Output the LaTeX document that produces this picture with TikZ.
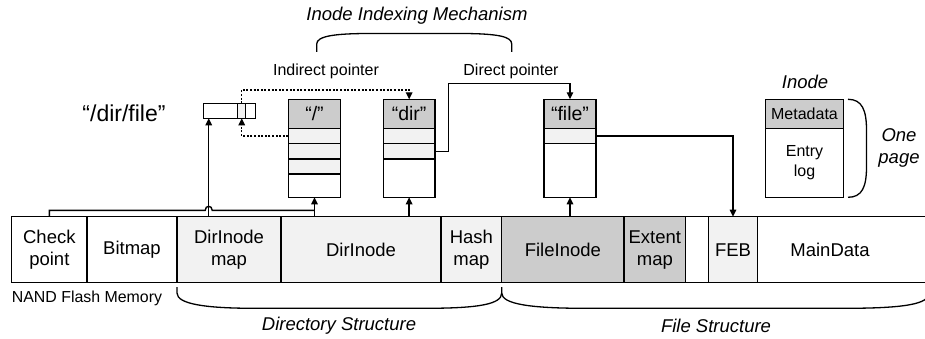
\documentclass[tikz,border=0pt]{standalone}
\usepackage{fontspec}
\setmainfont{Liberation Sans}
\usetikzlibrary{arrows.meta,calc}
\definecolor{dgray}{HTML}{CCCCCC}
\definecolor{lgray}{HTML}{F2F2F2}
\tikzset{
  cell/.style={draw=black,line width=1.4pt,inner sep=0pt,outer sep=0pt,anchor=north west,minimum height=66pt,align=center,font=\fontsize{18.5}{22}\selectfont},
  boxpart/.style={draw=black,line width=1.4pt,inner sep=0pt,outer sep=0pt,anchor=north west},
  hdr/.style={boxpart,fill=dgray,minimum height=29pt,font=\fontsize{19.5}{22}\selectfont},
  arr/.style={line width=1.4pt,-{Triangle[length=7pt,width=6.5pt]}},
  plain/.style={line width=1.4pt},
  dotline/.style={line width=1.4pt,dash pattern=on 2pt off 1.6pt},
  lbl/.style={font=\fontsize{16}{19}\selectfont,inner sep=0pt},
  ilbl/.style={font=\fontsize{18.5}{22}\selectfont\itshape,inner sep=0pt,align=center},
  brace/.style={line width=1.3pt}
}
\begin{document}
\begin{tikzpicture}[x=1pt,y=-1pt]
\useasboundingbox (0,0) rectangle (925,339);
% memory bar
\node[cell,minimum width=75.3pt] (cp) at (11.7,216.7) {Check\\point};
\node[cell,minimum width=90pt] (bm) at (87,216.7) {Bitmap};
\node[cell,minimum width=104pt,fill=lgray] (dim) at (177,216.7) {DirInode\\map};
\node[cell,minimum width=160pt,fill=lgray] (di) at (281,216.7) {DirInode};
\node[cell,minimum width=60.7pt,fill=lgray] (hm) at (441,216.7) {Hash\\map};
\node[cell,minimum width=122.3pt,fill=dgray] (fi) at (501.7,216.7) {FileInode};
\node[cell,minimum width=61.7pt,fill=dgray] (em) at (624,216.7) {Extent\\map};
\node[cell,minimum width=23pt] (gp) at (685.7,216.7) {};
\node[cell,minimum width=48.6pt,fill=lgray] (feb) at (708.7,216.7) {FEB};
\node[cell,draw=none,minimum width=145.4pt] (md) at (757.3,216.7) {MainData};
\draw[plain] (md.north west) -- ++(180,0);
\draw[plain] (md.south west) -- ++(180,0);
\node[lbl,anchor=west,font=\fontsize{15.9}{19}\selectfont] (nand) at (11.7,298) {NAND Flash Memory};

% bottom braces
\draw[brace] (177,287) -- (177,293) .. controls (177,304) and (205,308.3) .. (255,308.3) -- (425,308.3) .. controls (480,308.3) and (501.7,304) .. (501.7,293) -- (501.7,287);
\draw[brace] (501.7,293) .. controls (501.7,304) and (530,308.3) .. (585,308.3) -- (845,308.3) .. controls (905,308.3) and (929,304) .. (929,293);
\node[ilbl] (ds) at (339,326) {Directory Structure};
\node[ilbl] (fs) at (716,326) {File Structure};

% top brace
\draw[brace] (316.7,52) -- (316.7,44) .. controls (316.7,36) and (335,33.5) .. (370,33.5) -- (460,33.5) .. controls (500,33.5) and (511.7,37) .. (511.7,44) -- (511.7,52);
\node[ilbl] (iim) at (417,16) {Inode Indexing Mechanism};

% pointer box
\node[boxpart,minimum width=34.4pt,minimum height=15pt] (ptrl) at (203.3,103.3) {};
\node[boxpart,fill=lgray,minimum width=8pt,minimum height=15pt] (ptrm) at (237.7,103.3) {};
\node[boxpart,minimum width=10pt,minimum height=15pt] (ptrr) at (245.7,103.3) {};
\node[font=\fontsize{23}{26}\selectfont,inner sep=0pt] (path) at (124,113) {“/dir/file”};

% "/" box
\node[hdr,minimum width=52.4pt] (sh) at (288.3,99.3) {“/”};
\node[boxpart,fill=lgray,minimum width=52.4pt,minimum height=15.3pt] (sr1) at (288.3,128.3) {};
\node[boxpart,fill=lgray,minimum width=52.4pt,minimum height=15.3pt] (sr2) at (288.3,143.6) {};
\node[boxpart,fill=lgray,minimum width=52.4pt,minimum height=15.3pt] (sr3) at (288.3,158.9) {};
\node[boxpart,minimum width=52.4pt,minimum height=23.1pt] (sb) at (288.3,174.2) {};

% "dir" box
\node[hdr,minimum width=51.7pt] (dh) at (383.3,99.3) {“dir”};
\node[boxpart,fill=lgray,minimum width=51.7pt,minimum height=15.3pt] (dr1) at (383.3,128.3) {};
\node[boxpart,fill=lgray,minimum width=51.7pt,minimum height=15.3pt] (dr2) at (383.3,143.6) {};
\node[boxpart,minimum width=51.7pt,minimum height=38.4pt] (db) at (383.3,158.9) {};

% "file" box
\node[hdr,minimum width=52pt] (fh) at (544,99.3) {“file”};
\node[boxpart,fill=lgray,minimum width=52pt,minimum height=15.3pt] (fr1) at (544,128.3) {};
\node[boxpart,minimum width=52pt,minimum height=53.7pt] (fb) at (544,143.6) {};

% Inode legend
\node[hdr,minimum width=77.6pt,font=\fontsize{16}{19}\selectfont] (ih) at (765.7,99.3) {Metadata};
\node[boxpart,minimum width=77.6pt,minimum height=69pt,align=center,font=\fontsize{16}{20}\selectfont] (ib) at (765.7,128.3) {Entry\\log};
\node[ilbl] (inl) at (805,82) {Inode};
\draw[brace] (848,99.3) .. controls (862,99.3) and (866.5,110) .. (866.5,130) -- (866.5,167) .. controls (866.5,187) and (862,197.3) .. (848,197.3);
\node[ilbl] (op) at (899,148) {One\\page};

% labels
\node[lbl] (ind) at (326,71) {Indirect pointer};
\node[lbl] (dir) at (511,71) {Direct pointer};

% connectors
\coordinate (pa) at (208.7,118.3);
\draw[arr] (pa |- dim.north) -- (pa);
\draw[plain] (cp.north) -- ++(0,-6.4) -- (205.2,210.3) .. controls (205.2,205) and (212.2,205) .. (212.2,210.3) -- (sb.south |- 0,210.3);
\draw[arr] (sb.south |- di.north) -- (sb.south);
\draw[arr] (db.south |- di.north) -- (db.south);
\draw[arr] (fb.south |- fi.north) -- (fb.south);
\draw[dotline,-{Triangle[length=7pt,width=6.5pt]}] (sr1.west) -| (ptrm.south);
\draw[dotline,-{Triangle[length=7pt,width=6.5pt]}] (ptrm.north) -- ++(0,-13.3) -| (dh.north);
\coordinate (dp) at (448.3,83.3);
\draw[arr] (dr2.east) -| (dp) -| (fh.north);
\draw[arr] (fr1.east) -| (feb.north);
\end{tikzpicture}
\end{document}
